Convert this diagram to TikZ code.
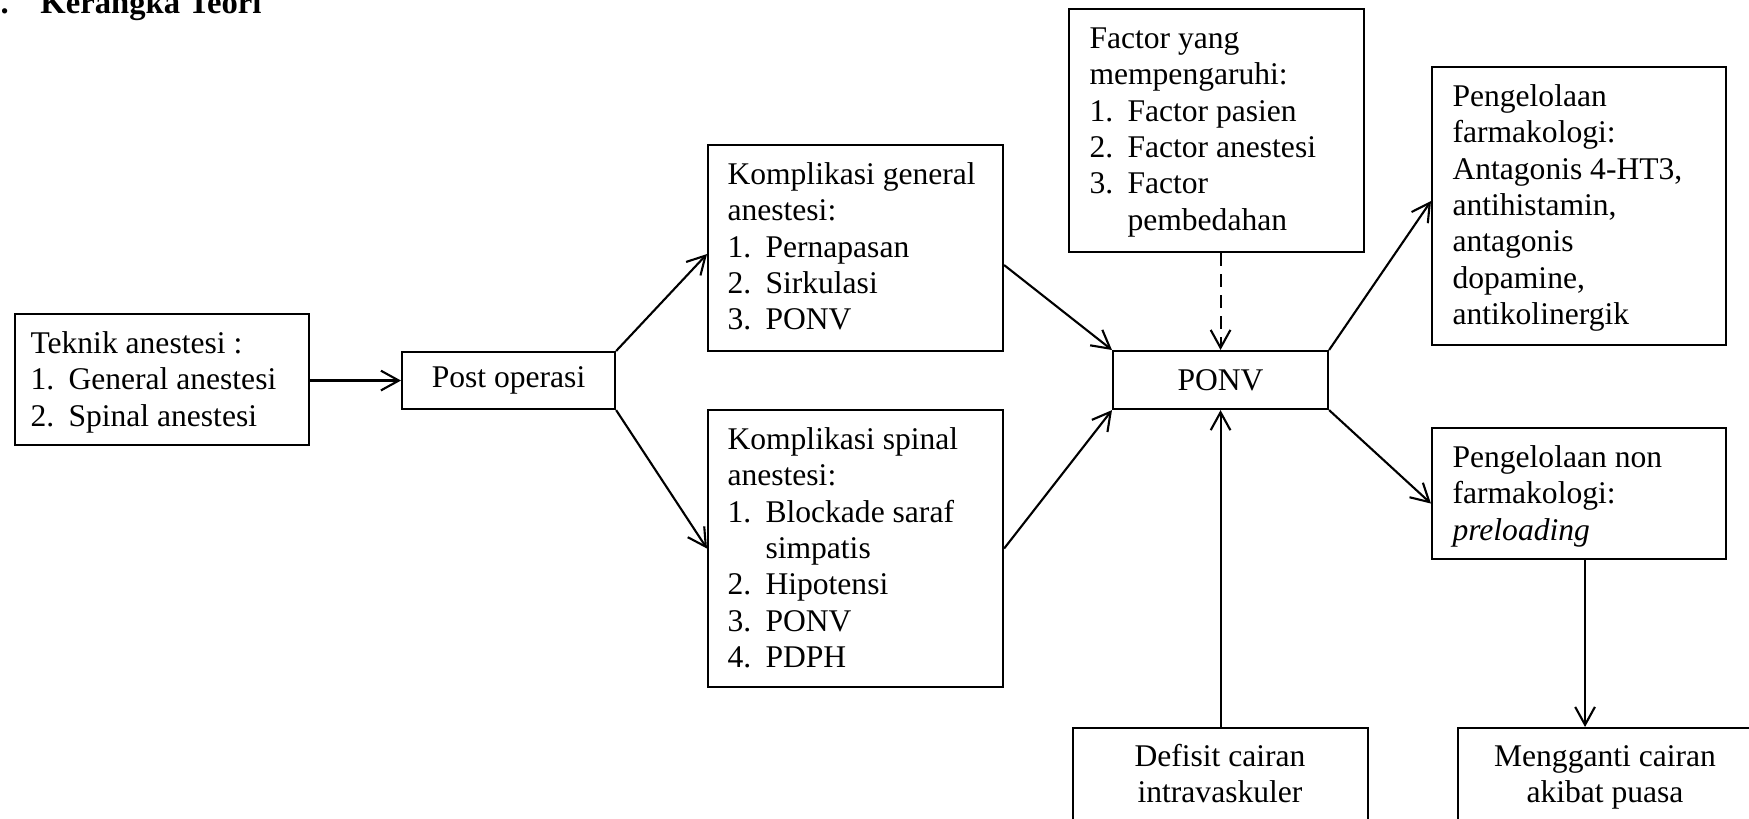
\documentclass[tikz,border=0pt]{standalone}
\usepackage{fontspec}
\setmainfont{Liberation Serif}
\usetikzlibrary{arrows.meta}
\newlength\pxu
\setlength\pxu{0.38pt}
\newcommand\itm[2]{\makebox[38\pxu][l]{#1}#2}
\newcommand\hang{\hspace*{38\pxu}}
\newcommand\fl{\rule{0pt}{10pt}}
\tikzset{
  box/.style={draw, line width=0.8pt, rectangle, inner sep=0pt},
  txt/.style={inner sep=0pt, align=left, font=\fontsize{12pt}{13.8pt}\selectfont},
  ctxt/.style={inner sep=0pt, align=center, font=\fontsize{12pt}{13.8pt}\selectfont},
  arr/.style={line width=0.8pt, -{Straight Barb[length=6.8pt,width=7.5pt]}},
}
% name, x, y, w, h, pad, text
\newcommand\tbox[7]{%
  \node[box, minimum width=#4\pxu, minimum height=#5\pxu, anchor=north west] (#1) at (#2,#3) {};
  \node[txt, anchor=north west] (#1t) at ([xshift=#6\pxu, yshift=-13.7\pxu]#1.north west) {\fl#7};
}
\begin{document}
\begin{tikzpicture}[x=\pxu, y=-\pxu]
\useasboundingbox (0,0) rectangle (1749,819);
% heading
\node[anchor=base west, inner sep=0pt, font=\fontsize{12.4pt}{14pt}\selectfont\bfseries] (head) at (0,14) {\makebox[40\pxu][l]{.}Kerangka Teori};
% boxes
\tbox{tek}{14}{313}{294}{131}{16}{Teknik anestesi :\\ \itm{1.}{General anestesi}\\ \itm{2.}{Spinal anestesi}}
\node[box, ctxt, minimum width=213\pxu, minimum height=57\pxu, anchor=north west] (post) at (401,351) {Post operasi};
\tbox{gen}{707}{144}{295}{206}{20}{Komplikasi general\\anestesi:\\ \itm{1.}{Pernapasan}\\ \itm{2.}{Sirkulasi}\\ \itm{3.}{PONV}}
\tbox{spi}{707}{409}{295}{277}{20}{Komplikasi spinal\\anestesi:\\ \itm{1.}{Blockade saraf}\\ \hang simpatis\\ \itm{2.}{Hipotensi}\\ \itm{3.}{PONV}\\ \itm{4.}{PDPH}}
\node[box, ctxt, minimum width=215\pxu, minimum height=58\pxu, anchor=north west] (ponv) at (1112,350) {PONV};
\tbox{fac}{1068}{8}{295}{243}{21}{Factor yang\\mempengaruhi:\\ \itm{1.}{Factor pasien}\\ \itm{2.}{Factor anestesi}\\ \itm{3.}{Factor}\\ \hang pembedahan}
\tbox{farm}{1431}{66}{294}{278}{21}{Pengelolaan\\farmakologi:\\Antagonis 4-HT3,\\antihistamin,\\antagonis\\dopamine,\\antikolinergik}
\tbox{nf}{1431}{427}{294}{131}{21}{Pengelolaan non\\farmakologi:\\\textit{preloading}}
\node[box, minimum width=295\pxu, minimum height=150\pxu, anchor=north west] (def) at (1072,727) {};
\node[ctxt, anchor=north] (deft) at (1220,739.7) {\fl Defisit cairan\\intravaskuler};
\node[box, minimum width=320\pxu, minimum height=150\pxu, anchor=north west] (mg) at (1457,727) {};
\node[ctxt, anchor=north] (mgt) at (1605,739.7) {\fl Mengganti cairan\\akibat puasa};
% connectors
\draw[arr] (tek.east |- post.west) -- (post.west);
\draw[arr] (post.north east) -- ([yshift=-6\pxu]gen.west);
\draw[arr] (post.south east) -- (spi.west);
\draw[arr] ([yshift=-17\pxu]gen.east) -- (ponv.north west);
\draw[arr] (spi.east) -- (ponv.south west);
\draw[arr, dash pattern=on 5pt off 3pt] (ponv.north |- fac.south) -- (ponv.north);
\draw[arr] (ponv.north east) -- ([yshift=5\pxu]farm.west);
\draw[arr] (ponv.south east) -- ([yshift=-10\pxu]nf.west);
\draw[arr] (ponv.south |- def.north) -- (ponv.south);
\draw[arr] ([xshift=6\pxu]nf.south) -- ([xshift=6\pxu]nf.south |- mg.north);
\end{tikzpicture}
\end{document}
